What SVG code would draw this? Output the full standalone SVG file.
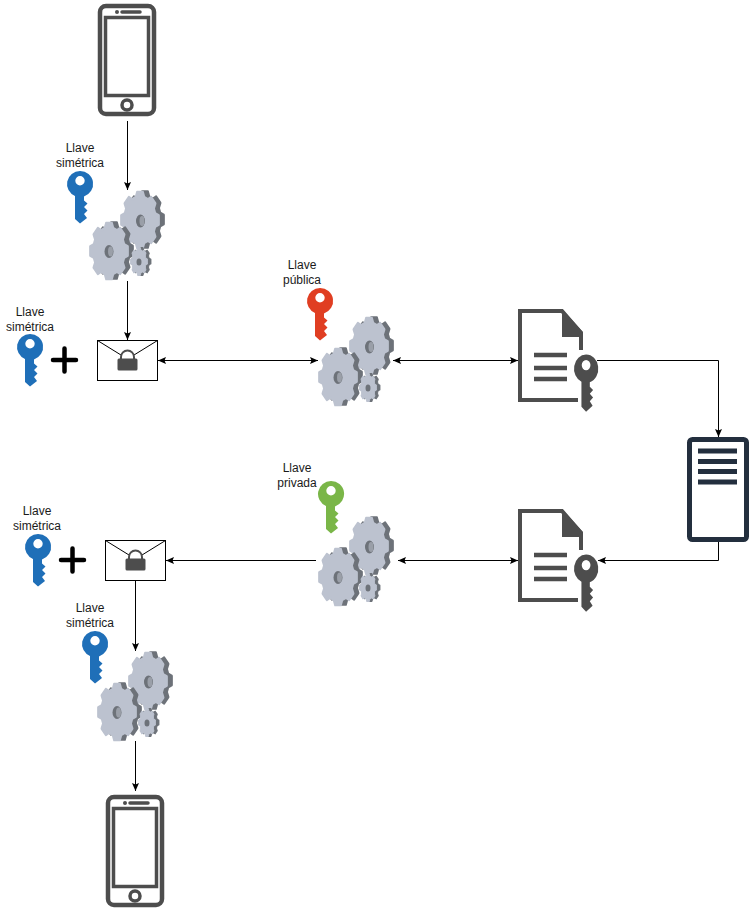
<svg xmlns="http://www.w3.org/2000/svg" xmlns:xlink="http://www.w3.org/1999/xlink" width="749" height="910" viewBox="0 0 749 910">
<style>
.t{font-family:"Liberation Sans",Arial,sans-serif;font-size:12px;fill:#1a1a1a;text-anchor:middle}
.c{fill:none;stroke:#000;stroke-width:1}
.ph{fill:none;stroke:#4d4d4d}
.gd{fill:#6d7279;stroke:#6d7279;stroke-width:9;stroke-linejoin:round}
.gl{fill:#bcc2cf;stroke:#bcc2cf;stroke-width:9;stroke-linejoin:round}
.env{fill:#fff;stroke:#000;stroke-width:1}
.plus{fill:none;stroke:#000;stroke-width:4.5;stroke-linecap:round}
.dk{fill:#4d4d4d}
</style>
<defs>
<marker id="a" markerUnits="userSpaceOnUse" markerWidth="10" markerHeight="10" refX="8" refY="4" orient="auto-start-reverse" overflow="visible">
<path d="M0,0.500 L8,4 L0,7.500 L1.500,4 Z" fill="#000"/>
</marker>
<polygon id="gear" points="76.9,-22.1 94.8,-15 94.8,15 76.9,22.1 70,38.8 77.7,56.4 56.4,77.7 38.8,70 22.1,76.9 15,94.8 -15,94.8 -22.1,76.9 -38.8,70 -56.4,77.7 -77.7,56.4 -70,38.8 -76.9,22.1 -94.8,15 -94.8,-15 -76.9,-22.1 -70,-38.8 -77.7,-56.4 -56.4,-77.7 -38.8,-70 -22.1,-76.9 -15,-94.8 15,-94.8 22.1,-76.9 38.8,-70 56.4,-77.7 77.7,-56.4 70,-38.8"/>
<g id="gears">
<use xlink:href="#gear" class="gd" transform="translate(56,29.500) scale(.2,.295)"/>
<use xlink:href="#gear" class="gl" transform="translate(51,30) scale(.2,.295)"/>
<ellipse cx="51.500" cy="31" rx="4.500" ry="6.500" fill="#6d7279"/>
<ellipse cx="53" cy="31" rx="2.500" ry="5" fill="#9a9fa8"/>
<use xlink:href="#gear" class="gd" transform="translate(25,60.500) scale(.2,.295)"/>
<use xlink:href="#gear" class="gl" transform="translate(20,61) scale(.2,.295)"/>
<ellipse cx="20" cy="61.500" rx="4.500" ry="6.500" fill="#6d7279"/>
<ellipse cx="21.500" cy="61.500" rx="2.500" ry="5" fill="#9a9fa8"/>
<use xlink:href="#gear" class="gd" transform="translate(52.500,71.500) scale(.1,.145)"/>
<use xlink:href="#gear" class="gl" transform="translate(50,71.500) scale(.09,.145)"/>
<ellipse cx="50" cy="72" rx="2.500" ry="3.500" fill="#6d7279"/>
</g>
<path id="key" fill-rule="evenodd" d="M13,0 A13,13 0 0 1 17,25.400 L17,29.500 L20.500,32.500 L17,36 L20.500,39.500 L17,43 L20,47 L13,52.500 L8,48 L8,25 A13,13 0 0 1 13,0 Z M13,5 A4.700,4.700 0 1 0 13,14.400 A4.700,4.700 0 1 0 13,5 Z"/>
<g id="phone">
<rect x="100" y="6" width="54" height="108" rx="6" class="ph" stroke-width="4.500"/>
<rect x="105.500" y="17.500" width="43" height="78" class="ph" stroke-width="3.500"/>
<path d="M122,12 H140" class="ph" stroke-width="3.500" stroke-linecap="round"/>
<circle cx="117" cy="12" r="2" class="dk"/>
<circle cx="127" cy="105" r="5" class="ph" stroke-width="3.500"/>
</g>
<g id="doc">
<path d="M578,400 H520 V311 H562 L581,333 V350" fill="none" stroke="#4d4d4d" stroke-width="4"/>
<path d="M562,309 L583,332 V337 H562 Z" class="dk"/>
<path d="M534,355 H567 M534,368 H567 M534,379 H567" fill="none" stroke="#4d4d4d" stroke-width="4.500"/>
<use xlink:href="#key" class="dk" transform="translate(574,354.500) scale(.93,1.09)"/>
</g>
<g id="env">
<rect x="97.500" y="340.500" width="60" height="40" class="env"/>
<path d="M97.500,340.500 L121,355 M157.500,340.500 L134,355" fill="none" stroke="#000"/>
<path d="M121,359 V357 A6.500,6.500 0 0 1 134,357 V359" fill="none" stroke="#4d4d4d" stroke-width="2"/>
<rect x="117.500" y="358.500" width="20" height="12" rx="1.500" class="dk"/>
</g>
</defs>

<g id="connectors">
<path class="c" d="M127.500,121 V190" marker-end="url(#a)"/>
<path class="c" d="M127.500,281 V340" marker-end="url(#a)"/>
<path class="c" d="M158,360.500 H318" marker-start="url(#a)" marker-end="url(#a)"/>
<path class="c" d="M393,360.500 H518" marker-start="url(#a)" marker-end="url(#a)"/>
<path class="c" d="M597,360.500 H718.500 V437" marker-end="url(#a)"/>
<path class="c" d="M718.500,542 V560.500 H598" marker-end="url(#a)"/>
<path class="c" d="M398,560.500 H518" marker-start="url(#a)" marker-end="url(#a)"/>
<path class="c" d="M316,560.500 H166" marker-end="url(#a)"/>
<path class="c" d="M135.500,580 V651" marker-end="url(#a)"/>
<path class="c" d="M135.500,741 V791" marker-end="url(#a)"/>
</g>

<g id="phone-top"><use xlink:href="#phone"/></g>
<g id="phone-bottom"><use xlink:href="#phone" x="8" y="791"/></g>

<g id="gears-1"><use xlink:href="#gears" x="89" y="190"/></g>
<g id="gears-2"><use xlink:href="#gears" x="318" y="316"/></g>
<g id="gears-3"><use xlink:href="#gears" x="318" y="516"/></g>
<g id="gears-4"><use xlink:href="#gears" x="97" y="651"/></g>

<g id="key-1"><use xlink:href="#key" x="67" y="171" fill="#1f6fb8"/><text class="t" x="80" y="152">Llave</text><text class="t" x="80" y="167">simétrica</text></g>
<g id="key-2"><use xlink:href="#key" x="17" y="334" fill="#1f6fb8"/><text class="t" x="30" y="316">Llave</text><text class="t" x="30" y="331">simétrica</text></g>
<g id="key-3"><use xlink:href="#key" x="307" y="288" fill="#e03e22"/><text class="t" x="302" y="269">Llave</text><text class="t" x="302" y="284">pública</text></g>
<g id="key-4"><use xlink:href="#key" x="318" y="481" fill="#7ab648"/><text class="t" x="297" y="472">Llave</text><text class="t" x="297" y="487">privada</text></g>
<g id="key-5"><use xlink:href="#key" x="25" y="534" fill="#1f6fb8"/><text class="t" x="37" y="515">Llave</text><text class="t" x="37" y="530">simétrica</text></g>
<g id="key-6"><use xlink:href="#key" x="82" y="631" fill="#1f6fb8"/><text class="t" x="90" y="612">Llave</text><text class="t" x="90" y="627">simétrica</text></g>

<g id="plus-1"><path class="plus" d="M53,360 H76 M64.500,348.500 V371.500"/></g>
<g id="plus-2"><path class="plus" d="M61,560 H84 M72.500,548.500 V571.500"/></g>

<g id="envelope-1"><use xlink:href="#env"/></g>
<g id="envelope-2"><use xlink:href="#env" x="8" y="200"/></g>

<g id="doc-1"><use xlink:href="#doc"/></g>
<g id="doc-2"><use xlink:href="#doc" y="200"/></g>

<g id="server">
<rect x="689.500" y="439.500" width="57" height="100" rx="3" fill="#fff" stroke="#232f3e" stroke-width="5"/>
<path d="M698,451 H737 M698,461.500 H737 M698,471.500 H737 M698,482 H737" fill="none" stroke="#232f3e" stroke-width="5"/>
</g>
</svg>
